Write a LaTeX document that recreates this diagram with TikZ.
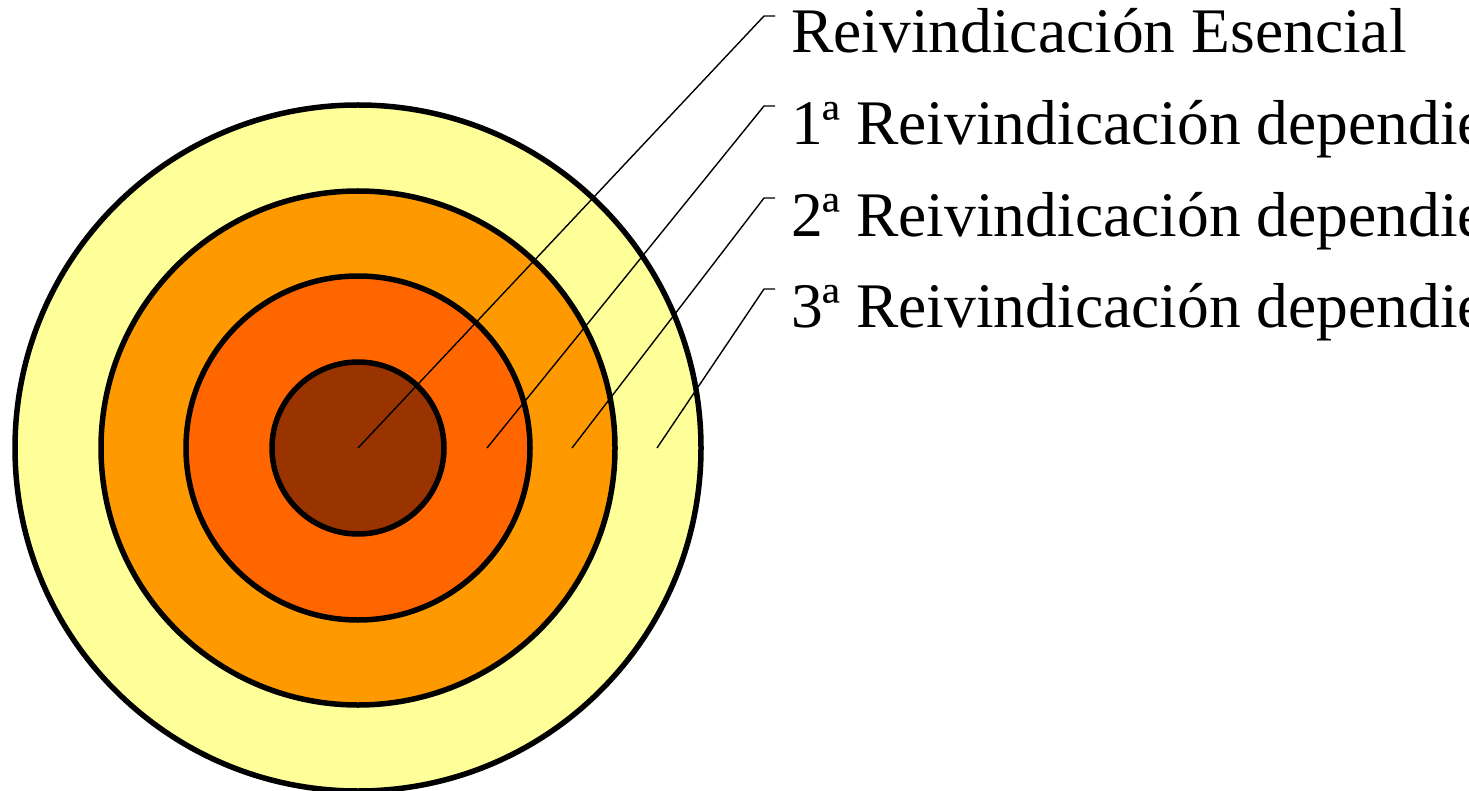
\documentclass[tikz,border=0pt]{standalone}
\usepackage{fontspec}
\setmainfont{Liberation Serif}
\definecolor{ringA}{HTML}{FFFF99}
\definecolor{ringB}{HTML}{FF9900}
\definecolor{ringC}{HTML}{FF6600}
\definecolor{ringD}{HTML}{993300}
\begin{document}
\begin{tikzpicture}[x=1pt,y=-1pt,
  ring/.style={circle,draw=black,line width=5.5pt,inner sep=0pt,outer sep=0pt},
  leader/.style={draw=black,line width=1.4pt},
  label/.style={anchor=base west,inner sep=0pt,font=\fontsize{63.5}{72}\selectfont}]
\useasboundingbox (0,0) rectangle (1469,791);
\clip (0,0) rectangle (1469,791);
\node[ring,fill=ringA,minimum size=686pt] (r4) at (358,448) {};
\node[ring,fill=ringB,minimum size=514pt] (r3) at (358,448) {};
\node[ring,fill=ringC,minimum size=344pt] (r2) at (358,448) {};
\node[ring,fill=ringD,minimum size=172pt] (r1) at (358,448) {};
\coordinate (s1) at (358,448);
\coordinate (s2) at (487,448);
\coordinate (s3) at (572,448);
\coordinate (s4) at (657,448);
\coordinate (k1) at (764,16);
\coordinate (k2) at (764,106);
\coordinate (k3) at (764,198);
\coordinate (k4) at (764,289);
\coordinate (e1) at (775,16);
\coordinate (e2) at (775,106);
\coordinate (e3) at (775,198);
\coordinate (e4) at (775,289);
\node[label] (t1) at (791,53) {Reivindicación Esencial};
\node[label] (t2) at (791,145) {1ª Reivindicación dependiente};
\node[label] (t3) at (791,237) {2ª Reivindicación dependiente};
\node[label] (t4) at (791,327) {3ª Reivindicación dependiente};
\draw[leader] (s1) -- (k1) -- (e1);
\draw[leader] (s2) -- (k2) -- (e2);
\draw[leader] (s3) -- (k3) -- (e3);
\draw[leader] (s4) -- (k4) -- (e4);
\end{tikzpicture}
\end{document}
